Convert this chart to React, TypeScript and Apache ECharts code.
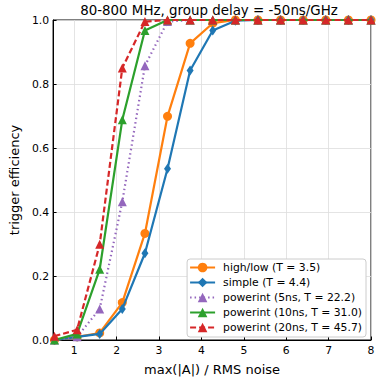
import React, { useEffect, useRef } from "react";
import * as echarts from "echarts";

const xValues = [0.533, 1.067, 1.6, 2.133, 2.667, 3.2, 3.733, 4.267, 4.8, 5.333, 5.867, 6.4, 6.933, 7.467, 8.0];
const highLow = [0.0, 0.01, 0.022, 0.117, 0.333, 0.699, 0.927, 0.99, 1, 1, 1, 1, 1, 1, 1];
const simple = [0.0, 0.01, 0.019, 0.097, 0.271, 0.535, 0.842, 0.967, 0.998, 1, 1, 1, 1, 1, 1];
const pw5 = [0.0, 0.01, 0.097, 0.432, 0.857, 0.995, 1, 1, 1, 1, 1, 1, 1, 1, 1];
const pw10 = [0.0, 0.019, 0.221, 0.688, 0.967, 1, 1, 1, 1, 1, 1, 1, 1, 1, 1];
const pw20 = [0.012, 0.032, 0.299, 0.85, 0.995, 1, 1, 1, 1, 1, 1, 1, 1, 1, 1];
const xTicks = [1, 2, 3, 4, 5, 6, 7, 8];
const names = [
  "high/low (T = 3.5)",
  "simple (T = 4.4)",
  "powerint (5ns, T = 22.2)",
  "powerint (10ns, T = 31.0)",
  "powerint (20ns, T = 45.7)",
];

const FONT = "DejaVu Sans";

export default function App() {
  const ref = useRef<HTMLDivElement>(null);
  useEffect(() => {
    const chart = echarts.init(ref.current!, null, { renderer: "svg" });
    const pairs = (ys: number[]) => xValues.map((x, i) => [x, ys[i]]);
    const mk = (name: string, ys: number[], color: string, symbol: string, size: any, type: any, z: number) => ({
      name,
      type: "line",
      data: pairs(ys),
      symbol,
      symbolSize: size,
      showSymbol: true,
      clip: true,
      z,
      itemStyle: { color, borderWidth: 0 },
      lineStyle: { color, width: 2.2, type },
    });
    chart.setOption({
      animation: false,
      textStyle: { fontFamily: FONT },
      title: {
        text: "80-800 MHz, group delay = -50ns/GHz",
        left: 209,
        top: 2.5,
        padding: 0,
        textAlign: "center",
        textStyle: { fontFamily: FONT, fontSize: 13.4, fontWeight: "normal", color: "#000", lineHeight: 16 },
      },
      grid: { left: 42, right: 10, top: 20, bottom: 40, show: true, borderColor: "#000", borderWidth: 1, backgroundColor: "transparent" },
      legend: {
        orient: "vertical",
        right: 15,
        bottom: 44,
        backgroundColor: "#fff",
        borderColor: "#ccc",
        borderWidth: 1,
        borderRadius: 3,
        padding: [3, 4, 4, 2],
        itemGap: 4,
        itemWidth: 25,
        itemHeight: 12,
        textStyle: { fontFamily: FONT, fontSize: 10.8, color: "#000", padding: [0, 0, 0, 3] },
        data: names,
      },
      xAxis: {
        type: "value",
        min: 0.5,
        max: 8,
        name: "max(|A|) / RMS noise",
        nameLocation: "middle",
        nameGap: 23,
        nameTextStyle: { fontFamily: FONT, fontSize: 13, color: "#000" },
        axisLine: { show: true, lineStyle: { color: "#000", width: 1 } },
        axisTick: { show: true, inside: true, length: 3.5, customValues: xTicks, lineStyle: { color: "#000" } },
        axisLabel: { customValues: xTicks, fontFamily: FONT, fontSize: 10.8, color: "#000", margin: 5 },
        splitLine: { show: true, lineStyle: { color: "#ddd", width: 0.8 } },
      },
      yAxis: {
        type: "value",
        min: 0,
        max: 1,
        interval: 0.2,
        name: "trigger efficiency",
        nameLocation: "middle",
        nameGap: 31,
        nameTextStyle: { fontFamily: FONT, fontSize: 13, color: "#000" },
        axisLine: { show: true, lineStyle: { color: "#000", width: 1 } },
        axisTick: { show: true, inside: true, length: 3.5, lineStyle: { color: "#000" } },
        axisLabel: { fontFamily: FONT, fontSize: 10.8, color: "#000", margin: 4, formatter: (v: number) => v.toFixed(1) },
        splitLine: { show: true, lineStyle: { color: "#ddd", width: 0.8 } },
      },
      series: [
        mk(names[0], highLow, "#ff7f0e", "circle", 9, "solid", 2),
        mk(names[1], simple, "#1f77b4", "diamond", [7, 10], "solid", 3),
        mk(names[2], pw5, "#9467bd", "triangle", 9, [1.5, 3], 4),
        mk(names[3], pw10, "#2ca02c", "triangle", 9, "solid", 5),
        mk(names[4], pw20, "#d62728", "triangle", 9, [6, 3], 6),
      ],
    });
    return () => chart.dispose();
  }, []);
  return <div ref={ref} style={{ position: "absolute", left: 0, top: 0, width: 381, height: 381 }} />;
}
